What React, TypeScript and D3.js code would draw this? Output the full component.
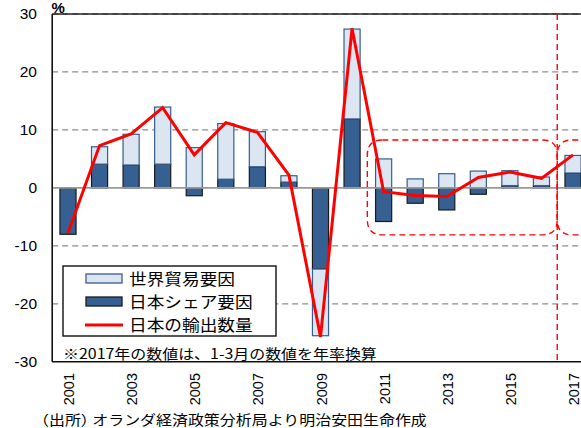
import React from 'react';
import * as d3 from 'd3';

const years = ['2001','2002','2003','2004','2005','2006','2007','2008','2009','2010','2011','2012','2013','2014','2015','2016','2017'];
const japanShare = [-8.0, 4.1, 3.95, 4.1, -1.35, 1.5, 3.65, 1.0, -14.0, 11.9, -5.8, -2.65, -3.8, -1.1, 0.4, 0.4, 2.57];
const worldTrade = [0, 3.0, 5.3, 9.85, 6.95, 9.6, 6.05, 1.1, -11.5, 15.5, 5.0, 1.55, 2.45, 2.9, 2.57, 1.48, 3.03];
const exportVolume = [-7.8, 7.3, 9.3, 13.85, 5.7, 11.25, 9.6, 2.2, -25.7, 27.5, -0.65, -1.3, -1.5, 1.8, 2.75, 1.65, 5.7];
const yTicks = [-30, -20, -10, 0, 10, 20, 30];
const gridTicks = [-20, -10, 10, 20, 30];
const legendLabels = ['世界貿易要因', '日本シェア要因', '日本の輸出数量'];
const noteText = '※2017年の数値は、1-3月の数値を年率換算';
const sourcePrefix = '（出所）';
const sourceText = 'オランダ経済政策分析局より明治安田生命作成';
const unitLabel = '%';
// highlighted region (annotation)
const highlightStart = '2011';
const highlightSplit = '2017';
const highlightTop = 8.27;
const highlightBottom = -8.1;

const LIGHT = '#DCE6F2';
const LIGHT_STROKE = '#385D8A';
const DARK = '#376092';
const DARK_STROKE = '#1a1a1a';
const RED = '#FF0000';
const LATIN = '"Liberation Sans", Arial, sans-serif';
const CJK = '"Noto Sans CJK JP", "Liberation Sans", sans-serif';

export default function App() {
  const W = 581, H = 428;
  const x = d3.scaleBand<string>().domain(years).range([52.2, 588.8]).paddingInner(0.49).paddingOuter(0.245);
  const y = d3.scaleLinear().domain([-30, 30]).range([361.8, 14]);
  const step = x.step();
  const bw = x.bandwidth();
  const cx = (yr: string) => (x(yr) as number) + bw / 2;

  const rows = years.map((yr, i) => ({ year: yr, share: japanShare[i], world: worldTrade[i] }));
  const stack = d3.stack<any>().keys(['share', 'world']).offset(d3.stackOffsetDiverging);
  const series = stack(rows);

  const line = d3.line<number>().x((_, i) => cx(years[i])).y(d => y(d));

  const left = x.range()[0];
  const right = x.range()[1];
  const splitX = (x(highlightSplit) as number) - (step - bw) / 2;
  const hlLeft = (x(highlightStart) as number) - (step - bw) / 2 - 0.5;
  const hlTop = y(highlightTop);
  const hlBot = y(highlightBottom);
  const r = 15;
  const roundRect = (x0: number, x1: number) => {
    const p = d3.path();
    p.moveTo(x0 + r, hlTop);
    p.lineTo(x1 - r, hlTop);
    p.quadraticCurveTo(x1, hlTop, x1, hlTop + r);
    p.lineTo(x1, hlBot - r);
    p.quadraticCurveTo(x1, hlBot, x1 - r, hlBot);
    p.lineTo(x0 + r, hlBot);
    p.quadraticCurveTo(x0, hlBot, x0, hlBot - r);
    p.lineTo(x0, hlTop + r);
    p.quadraticCurveTo(x0, hlTop, x0 + r, hlTop);
    p.closePath();
    return p.toString();
  };

  const sx = 1.14;
  const legX = 63, legY = 266, legW = 213, legH = 70;
  const rowY = [278.5, 301.5, 325];

  return (
    <svg width={W} height={H} style={{ position: 'absolute', left: 0, top: 0, display: 'block', background: '#fff' }}>
      {/* gridlines */}
      {gridTicks.map(t => (
        <line key={'g' + t} x1={left} x2={right} y1={y(t)} y2={y(t)} stroke="#8c8c8c" strokeWidth={1.3} strokeDasharray="6,4" />
      ))}
      {/* top border */}
      <line x1={left} x2={right} y1={y(30)} y2={y(30)} stroke="#222" strokeWidth={1.3} />

      {/* bars */}
      {series.map((s, si) => (
        <g key={s.key}>
          {s.map((d, i) => {
            const y0 = y(d[0]), y1 = y(d[1]);
            const top = Math.min(y0, y1), h = Math.abs(y1 - y0);
            if (h < 0.01) return null;
            return (
              <rect key={i} x={x(years[i])} y={top} width={bw} height={h}
                fill={si === 0 ? DARK : LIGHT}
                stroke={si === 0 ? DARK_STROKE : LIGHT_STROKE} strokeWidth={1.2} />
            );
          })}
        </g>
      ))}

      {/* zero line */}
      <line x1={left} x2={right} y1={y(0)} y2={y(0)} stroke="#999" strokeWidth={1.6} />

      {/* axes */}
      <line x1={left} x2={left} y1={y(30)} y2={y(-30)} stroke="#111" strokeWidth={1.6} />
      <line x1={left} x2={right} y1={y(-30)} y2={y(-30)} stroke="#111" strokeWidth={1.6} />

      {/* red highlight annotations */}
      <path d={roundRect(hlLeft, splitX)} fill="none" stroke={RED} strokeWidth={1.4} strokeDasharray="6,4" />
      <path d={roundRect(splitX, right + 40)} fill="none" stroke={RED} strokeWidth={1.4} strokeDasharray="6,4" />
      <line x1={splitX} x2={splitX} y1={y(30)} y2={y(-30)} stroke={RED} strokeWidth={1.4} strokeDasharray="6,4" />

      {/* export volume line */}
      <path d={line(exportVolume) || ''} fill="none" stroke={RED} strokeWidth={3} strokeLinejoin="miter" />

      {/* y tick labels */}
      {yTicks.map(t => (
        <text key={'t' + t} x={37} y={y(t) + 5.3} textAnchor="end" fontFamily={LATIN} fontSize={15.5} fill="#000">
          {t < 0 ? '-' + Math.abs(t) : String(t)}
        </text>
      ))}
      <text x={51.5} y={12.5} fontFamily={LATIN} fontSize={15} fontWeight="bold" fill="#000">{unitLabel}</text>

      {/* x tick labels */}
      {years.map((yr, i) => i % 2 === 0 ? (
        <text key={'x' + yr} transform={`translate(${cx(yr) + 6},${373}) rotate(-90)`} textAnchor="end"
          fontFamily={LATIN} fontSize={14.5} fill="#000">{yr}</text>
      ) : null)}

      {/* legend */}
      <rect x={legX} y={legY} width={legW} height={legH} fill="#fff" stroke="#111" strokeWidth={1.4} />
      <rect x={86} y={rowY[0] - 4.5} width={36} height={9} fill={LIGHT} stroke={LIGHT_STROKE} strokeWidth={1.3} />
      <rect x={86} y={rowY[1] - 4.5} width={36} height={9} fill={DARK} stroke={DARK_STROKE} strokeWidth={1.3} />
      <line x1={85} x2={123} y1={rowY[2]} y2={rowY[2]} stroke={RED} strokeWidth={3} />
      {legendLabels.map((lab, i) => (
        <text key={lab} transform={`translate(129,${rowY[i] + 6}) scale(${sx},1)`} fontFamily={CJK} fontSize={15.5} fill="#000">{lab}</text>
      ))}

      {/* note */}
      <text transform={`translate(63,359) scale(${sx},1)`} fontFamily={CJK} fontSize={14} fill="#000">{noteText}</text>

      {/* source */}
      <text transform={`translate(33,425) scale(${sx},1)`} fontFamily={CJK} fontSize={14} fill="#000">
        {sourcePrefix}<tspan dx={-4}>{sourceText}</tspan>
      </text>
    </svg>
  );
}
